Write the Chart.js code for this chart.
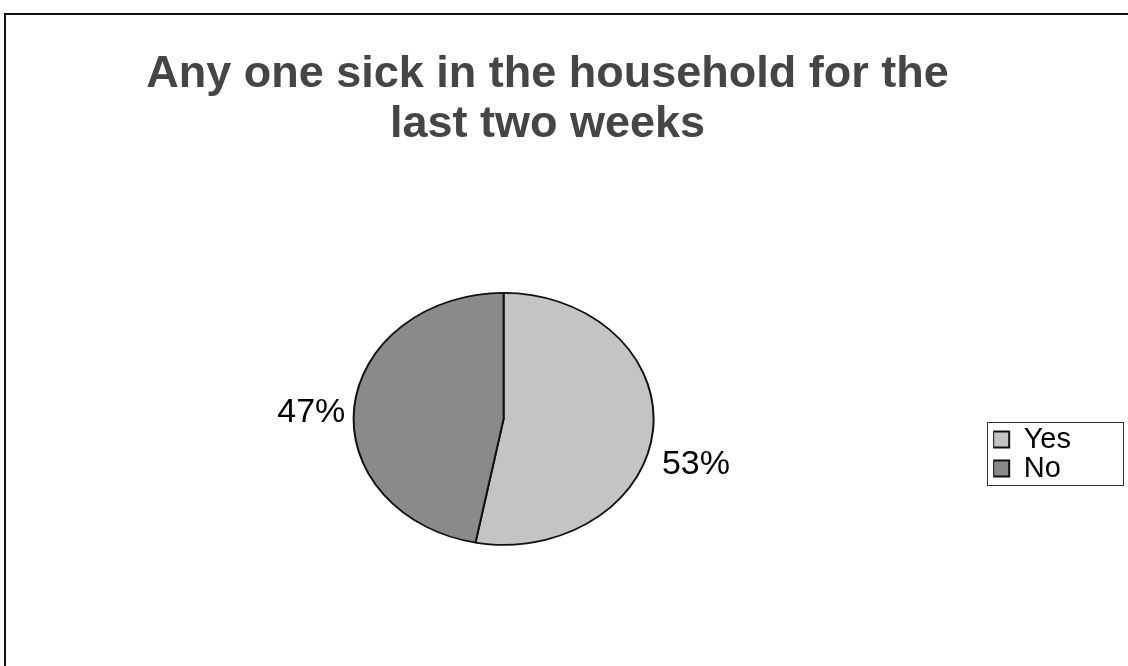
<!DOCTYPE html>
<html>
<head>
<meta charset="utf-8">
<script src="https://cdn.jsdelivr.net/npm/chart.js"></script>
<style>
  html, body { margin: 0; padding: 0; background: #fff; }
  #wrap { position: relative; width: 1128px; height: 666px; }
</style>
</head>
<body>
<div id="wrap"><canvas id="c" width="1128" height="666"></canvas></div>
<script>
const titleLines = ["Any one sick in the household for the", "last two weeks"];
const categories = ["Yes", "No"];
const percentValues = [53, 47];
const sliceColors = ["#c4c4c4", "#8a8a8a"];

const FONT = "'Liberation Sans', Arial, sans-serif";
const SQUASH = 0.84;

const framePlugin = {
  id: 'frame',
  beforeDraw(chart) {
    const ctx = chart.ctx;
    ctx.save();
    ctx.fillStyle = '#fff';
    ctx.fillRect(0, 0, chart.width, chart.height);
    ctx.strokeStyle = '#111';
    ctx.lineWidth = 2;
    ctx.beginPath();
    ctx.moveTo(5, chart.height);
    ctx.lineTo(5, 14);
    ctx.lineTo(chart.width, 14);
    ctx.stroke();
    ctx.restore();
  }
};

const squashPlugin = {
  id: 'squash',
  beforeDatasetsDraw(chart) {
    const ctx = chart.ctx;
    const top = chart.chartArea.top;
    ctx.save();
    ctx.translate(0, top);
    ctx.scale(1, SQUASH);
    ctx.translate(0, -top);
  },
  afterDatasetsDraw(chart, args, opts) {
    const ctx = chart.ctx;
    ctx.restore();
    const top = chart.chartArea.top;
    const meta = chart.getDatasetMeta(0);
    ctx.save();
    ctx.font = "34px " + FONT;
    ctx.fillStyle = '#000';
    ctx.textBaseline = 'middle';
    meta.data.forEach((arc, i) => {
      const p = arc.getProps(['x', 'y', 'startAngle', 'endAngle', 'outerRadius'], true);
      const mid = (p.startAngle + p.endAngle) / 2;
      const c = Math.cos(mid), s = Math.sin(mid);
      const px = p.x + c * p.outerRadius * 1.06;
      const pyRaw = p.y + s * p.outerRadius * 1.06;
      const py = top + (pyRaw - top) * SQUASH + (opts.nudgeY ? opts.nudgeY[i] || 0 : 0);
      ctx.textAlign = c >= 0 ? 'left' : 'right';
      ctx.fillText(percentValues[i] + '%', px, py);
    });
    ctx.restore();
  }
};

const legendBoxPlugin = {
  id: 'legendBox',
  afterDraw(chart) {
    const lg = chart.legend;
    if (!lg || !lg.legendHitBoxes || !lg.legendHitBoxes.length) return;
    const hb = lg.legendHitBoxes;
    let l = Infinity, t = Infinity, r = -Infinity, b = -Infinity;
    hb.forEach(h => {
      l = Math.min(l, h.left); t = Math.min(t, h.top);
      r = Math.max(r, h.left + h.width); b = Math.max(b, h.top + h.height);
    });
    const ctx = chart.ctx;
    ctx.save();
    ctx.strokeStyle = '#333';
    ctx.lineWidth = 1;
    ctx.strokeRect(Math.round(l - 6) + 0.5, Math.round(t - 3) + 0.5, Math.round(r - l + 58), Math.round(b - t + 5));
    ctx.restore();
  }
};

new Chart(document.getElementById('c'), {
  type: 'pie',
  data: {
    labels: categories,
    datasets: [{
      data: percentValues,
      backgroundColor: sliceColors,
      borderColor: '#111',
      borderWidth: 2,
      radius: 150
    }]
  },
  options: {
    responsive: false,
    animation: false,
    events: [],
    layout: { padding: { left: 14, right: 47, top: 0, bottom: 4 } },
    plugins: {
      title: {
        display: true,
        text: titleLines,
        color: '#454545',
        font: { family: FONT, size: 45, weight: 'bold', lineHeight: 1.12 },
        padding: { top: 49, bottom: 93 }
      },
      legend: {
        position: 'right',
        title: {
          display: true,
          text: '',
          font: { family: FONT, size: 10, lineHeight: 1 },
          padding: 118
        },
        labels: {
          color: '#000',
          font: { family: FONT, size: 29 },
          boxWidth: 16,
          boxHeight: 16,
          padding: 0
        }
      },
      tooltip: { enabled: false },
      squash: { nudgeY: [33, 6] }
    }
  },
  plugins: [framePlugin, squashPlugin, legendBoxPlugin]
});
</script>
</body>
</html>
